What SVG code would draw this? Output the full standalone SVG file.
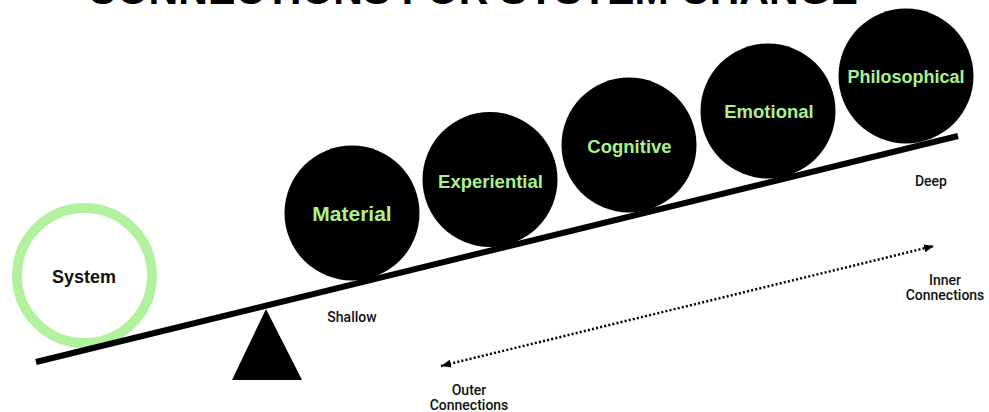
<svg xmlns="http://www.w3.org/2000/svg" width="989" height="412" viewBox="0 0 989 412">
  <style>
    .ball { fill: #000; }
    .lbl { font-family: "Liberation Sans", Arial, sans-serif; font-weight: 700; fill: #aaf08f; text-anchor: middle; }
    .small { font-family: Roboto, "Liberation Sans", Arial, sans-serif; font-weight: 500; font-size: 14px; fill: #111; text-anchor: middle; }
    .title { font-family: "Liberation Sans", Arial, sans-serif; font-weight: 900; font-size: 42px; fill: #000; }
  </style>
  <defs>
    <marker id="arrow" markerUnits="userSpaceOnUse" markerWidth="10" markerHeight="8" refX="10" refY="4" orient="auto-start-reverse">
      <path d="M0,0 L10,4 L0,8 z" fill="#000"/>
    </marker>
  </defs>
  <rect width="989" height="412" fill="#fff"/>

  <text class="title" x="87" y="4" textLength="771" lengthAdjust="spacingAndGlyphs">CONNECTIONS FOR SYSTEM CHANGE</text>

  <g id="system">
    <circle cx="84.5" cy="275.5" r="67.5" fill="none" stroke="#b2f29e" stroke-width="10"/>
    <text x="84" y="283" font-family="Liberation Sans, Arial, sans-serif" font-weight="700" font-size="18" text-anchor="middle" fill="#111">System</text>
  </g>

  <g id="seesaw">
    <line x1="36" y1="362" x2="958" y2="136" stroke="#000" stroke-width="6"/>
    <polygon points="266,309 232,380 302,380" fill="#000"/>
  </g>

  <g id="material">
    <circle class="ball" cx="352" cy="213" r="67.5"/>
    <text class="lbl" x="352" y="221" font-size="21">Material</text>
  </g>
  <g id="experiential">
    <circle class="ball" cx="490" cy="179.5" r="67.5"/>
    <text class="lbl" x="490.5" y="187.5" font-size="18.5">Experiential</text>
  </g>
  <g id="cognitive">
    <circle class="ball" cx="629" cy="145" r="67.5"/>
    <text class="lbl" x="629.5" y="153" font-size="18.5">Cognitive</text>
  </g>
  <g id="emotional">
    <circle class="ball" cx="768" cy="111" r="67.5"/>
    <text class="lbl" x="769" y="118" font-size="18.5">Emotional</text>
  </g>
  <g id="philosophical">
    <circle class="ball" cx="906" cy="76" r="67.5"/>
    <text class="lbl" x="906" y="83" font-size="18">Philosophical</text>
  </g>

  <g id="labels">
    <text class="small" x="352" y="322">Shallow</text>
    <text class="small" x="931" y="186">Deep</text>
    <text class="small" x="945" y="285">Inner</text>
    <text class="small" x="945" y="300">Connections</text>
    <text class="small" x="469" y="395">Outer</text>
    <text class="small" x="469" y="410">Connections</text>
  </g>

  <g id="connectors">
    <line x1="441" y1="366" x2="934" y2="246" stroke="#000" stroke-width="2.5" stroke-dasharray="2 2.2" marker-start="url(#arrow)" marker-end="url(#arrow)"/>
  </g>
</svg>
